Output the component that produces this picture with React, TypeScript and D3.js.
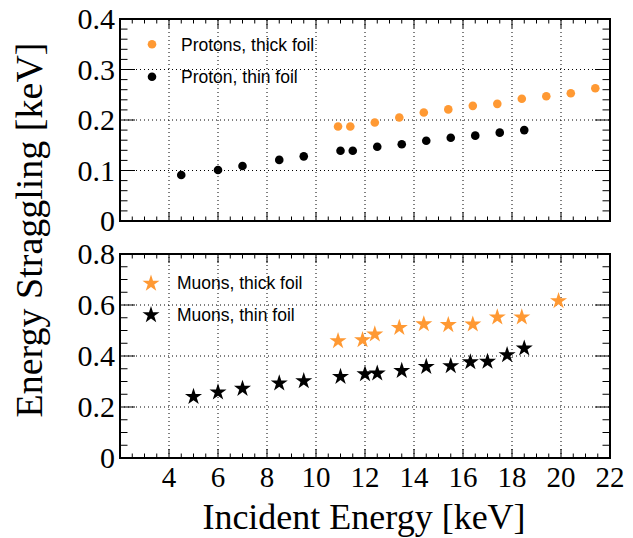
import React from "react";
import * as d3 from "d3";

// proton data (top panel)
const protonThickE = [10.9, 11.4, 12.4, 13.4, 14.4, 15.4, 16.4, 17.4, 18.4, 19.4, 20.4, 21.4];
const protonThickS = [0.187, 0.187, 0.195, 0.205, 0.215, 0.221, 0.228, 0.232, 0.242, 0.247, 0.253, 0.263];
const protonThinE = [4.5, 6.0, 7.0, 8.5, 9.5, 11.0, 11.5, 12.5, 13.5, 14.5, 15.5, 16.5, 17.5, 18.5];
const protonThinS = [0.091, 0.101, 0.109, 0.121, 0.128, 0.139, 0.139, 0.147, 0.152, 0.159, 0.165, 0.169, 0.175, 0.180];

// muon data (bottom panel)
const muonThickE = [10.9, 11.9, 12.4, 13.4, 14.4, 15.4, 16.4, 17.4, 18.4, 19.9];
const muonThickS = [0.459, 0.463, 0.485, 0.511, 0.525, 0.522, 0.524, 0.552, 0.552, 0.616];
const muonThinE = [5.0, 6.0, 7.0, 8.5, 9.5, 11.0, 12.0, 12.5, 13.5, 14.5, 15.5, 16.3, 17.0, 17.8, 18.5];
const muonThinS = [0.240, 0.258, 0.272, 0.293, 0.302, 0.319, 0.329, 0.332, 0.342, 0.358, 0.361, 0.376, 0.378, 0.404, 0.430];

const xTicks = [4, 6, 8, 10, 12, 14, 16, 18, 20, 22];
const topYTicks = [0, 0.1, 0.2, 0.3, 0.4];
const botYTicks = [0, 0.2, 0.4, 0.6, 0.8];

const ORANGE = "#ff9933";
const W = 633;
const H = 538;
const left = 120;
const right = 610;

const x = d3.scaleLinear().domain([2, 22]).range([left, right]);
const yTop = d3.scaleLinear().domain([0, 0.4]).range([221, 19]);
const yBot = d3.scaleLinear().domain([0, 0.8]).range([458, 254]);

const starPath = d3.symbol(d3.symbolStar, 90)() as string;

function Panel({ y, yTicks, minorStep, showX }: { y: d3.ScaleLinear<number, number>; yTicks: number[]; minorStep: number; showX: boolean }) {
  const [y0, y1] = y.range();
  const xMinor = d3.range(2, 22.001, 0.5);
  const yMinor = d3.range(0, y.domain()[1] + 1e-6, minorStep);
  const grid = "1,3";
  return (
    <g>
      {xTicks.filter((t) => t < 22).map((t) => (
        <line key={"gx" + t} x1={x(t)} x2={x(t)} y1={y0} y2={y1} stroke="#000" strokeWidth={1} strokeDasharray={grid} />
      ))}
      {yTicks.filter((t) => t > 0 && t < y.domain()[1]).map((t) => (
        <line key={"gy" + t} x1={left} x2={right} y1={y(t)} y2={y(t)} stroke="#000" strokeWidth={1} strokeDasharray={grid} />
      ))}
      {xMinor.map((t) => {
        const major = Math.abs(t % 2) < 1e-6;
        const len = major ? 9 : 4.5;
        return (
          <g key={"xt" + t}>
            <line x1={x(t)} x2={x(t)} y1={y0} y2={y0 - len} stroke="#000" strokeWidth={1} />
            <line x1={x(t)} x2={x(t)} y1={y1} y2={y1 + len} stroke="#000" strokeWidth={1} />
          </g>
        );
      })}
      {yMinor.map((t) => {
        const major = yTicks.some((m) => Math.abs(m - t) < 1e-6);
        const len = major ? 15 : 7.5;
        return (
          <g key={"yt" + t}>
            <line x1={left} x2={left + len} y1={y(t)} y2={y(t)} stroke="#000" strokeWidth={1} />
            <line x1={right} x2={right - len} y1={y(t)} y2={y(t)} stroke="#000" strokeWidth={1} />
          </g>
        );
      })}
      <rect x={left} y={y1} width={right - left} height={y0 - y1} fill="none" stroke="#000" strokeWidth={2} />
      {yTicks.map((t) => (
        <text key={"yl" + t} x={left - 5} y={y(t) + 10} textAnchor="end" fontFamily="'Liberation Serif', serif" fontSize={30}>
          {String(t)}
        </text>
      ))}
      {showX &&
        xTicks.map((t) => (
          <text key={"xl" + t} x={x(t)} y={y0 + 29} textAnchor="middle" fontFamily="'Liberation Serif', serif" fontSize={29}>
            {t}
          </text>
        ))}
    </g>
  );
}

export default function App() {
  const legendFont = { fontFamily: "'Liberation Sans', Arial, sans-serif", fontSize: 17.5 };
  return (
    <svg width={W} height={H} style={{ position: "absolute", left: 0, top: 0, background: "#fff" }}>
      <rect width={W} height={H} fill="#fff" />
      <Panel y={yTop} yTicks={topYTicks} minorStep={0.02} showX={false} />
      <Panel y={yBot} yTicks={botYTicks} minorStep={0.05} showX={true} />

      {protonThickE.map((e, i) => (
        <circle key={"pt" + i} cx={x(e)} cy={yTop(protonThickS[i])} r={4.3} fill={ORANGE} />
      ))}
      {protonThinE.map((e, i) => (
        <circle key={"pn" + i} cx={x(e)} cy={yTop(protonThinS[i])} r={4.3} fill="#000" />
      ))}
      {muonThickE.map((e, i) => (
        <path key={"mt" + i} d={starPath} transform={`translate(${x(e)},${yBot(muonThickS[i])})`} fill={ORANGE} />
      ))}
      {muonThinE.map((e, i) => (
        <path key={"mn" + i} d={starPath} transform={`translate(${x(e)},${yBot(muonThinS[i])})`} fill="#000" />
      ))}

      {/* legends */}
      <circle cx={152} cy={44.3} r={4.3} fill={ORANGE} />
      <text x={181} y={50.7} {...legendFont}>Protons, thick foil</text>
      <circle cx={152} cy={76.7} r={4.3} fill="#000" />
      <text x={181} y={82.5} {...legendFont}>Proton, thin foil</text>
      <path d={starPath} transform="translate(151,283.5)" fill={ORANGE} />
      <text x={177} y={289} {...legendFont}>Muons, thick foil</text>
      <path d={starPath} transform="translate(151,315)" fill="#000" />
      <text x={177} y={321} {...legendFont}>Muons, thin foil</text>

      {/* axis titles */}
      <text x={364} y={529} textAnchor="middle" fontFamily="'Liberation Serif', serif" fontSize={36}>
        Incident Energy [keV]
      </text>
      <text transform="translate(42,230) rotate(-90)" textAnchor="middle" fontFamily="'Liberation Serif', serif" fontSize={38}>
        Energy Straggling [keV]
      </text>
    </svg>
  );
}
